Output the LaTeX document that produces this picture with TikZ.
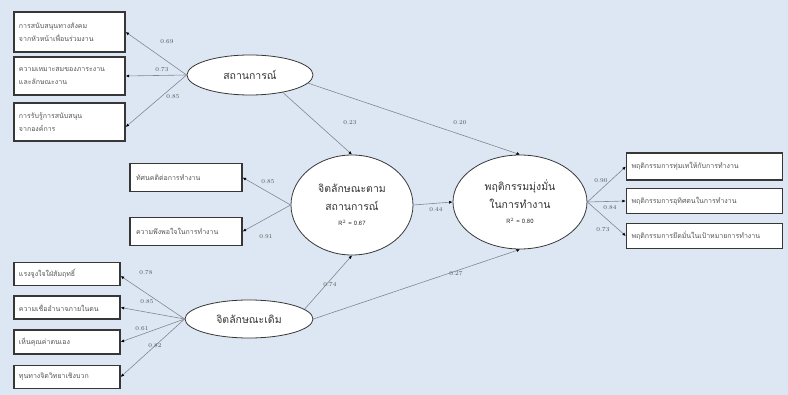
\documentclass[tikz,border=0pt]{standalone}
\usepackage{fontspec}
\newfontfamily\thaifont[Script=Thai]{Loma}
\usetikzlibrary{arrows.meta,shapes.geometric}
\definecolor{bgc}{RGB}{221,231,243}
\definecolor{boxc}{RGB}{55,55,55}
\definecolor{linec}{RGB}{130,135,145}
\definecolor{txtc}{RGB}{85,85,85}
\newcommand{\rsqfont}{\fontsize{6}{7}\selectfont}
\tikzset{
  ind/.style={draw=boxc, line width=1.3pt, fill=white, inner sep=2pt,
    font=\thaifont\fontsize{7}{13}\selectfont, text=txtc, align=left},
  lat/.style={ellipse, draw=boxc, line width=0.8pt, fill=white, inner sep=0pt,
    font=\thaifont\fontsize{10.5}{19}\selectfont, text=black!80, align=center},
  arr/.style={draw=linec, line width=0.6pt, -{Latex[length=3.5pt,width=3pt,color=black]}},
  lab/.style={font=\fontsize{6}{6}\selectfont, text=txtc, inner sep=0pt}
}
\begin{document}
\begin{tikzpicture}[x=1pt,y=-1pt]
\fill[bgc] (0,0) rectangle (788,395);
\useasboundingbox (0,0) rectangle (788,395);

% latent variables
\node[lat, minimum width=126pt, minimum height=40pt] (sit) at (250,75) {สถานการณ์};
\node[lat, minimum width=122pt, minimum height=100pt] (mid) at (352,205)
  {จิตลักษณะตาม\\[-1pt]สถานการณ์\\[-4pt]{\rsqfont R$^2$ = 0.67}};
\node[lat, minimum width=134pt, minimum height=94pt] (beh) at (520,202)
  {พฤติกรรมมุ่งมั่น\\[-1pt]ในการทำงาน\\[-4pt]{\rsqfont R$^2$ = 0.80}};
\node[lat, minimum width=128pt, minimum height=38pt] (trait) at (249,319) {จิตลักษณะเดิม};

% top-left indicators
\node[ind, minimum width=111pt, minimum height=40pt, text width=101pt] (s1) at (69.5,32)
  {การสนับสนุนทางสังคม\\จากหัวหน้าเพื่อนร่วมงาน};
\node[ind, minimum width=111pt, minimum height=38pt, text width=101pt] (s2) at (69.5,76)
  {ความเหมาะสมของภาระงาน\\และลักษณะงาน};
\node[ind, minimum width=111pt, minimum height=38pt, text width=101pt] (s3) at (69.5,122)
  {การรับรู้การสนับสนุน\\จากองค์การ};

% middle indicators
\node[ind, minimum width=112pt, minimum height=28pt, text width=100pt] (m1) at (186,177.5)
  {ทัศนคติต่อการทำงาน};
\node[ind, minimum width=112pt, minimum height=28pt, text width=100pt] (m2) at (186,231.5)
  {ความพึงพอใจในการทำงาน};

% bottom-left indicators
\node[ind, minimum width=106pt, minimum height=23pt, text width=96pt] (t1) at (67,274) {แรงจูงใจใฝ่สัมฤทธิ์};
\node[ind, minimum width=106pt, minimum height=23pt, text width=96pt] (t2) at (67,307.5) {ความเชื่ออำนาจภายในตน};
\node[ind, minimum width=106pt, minimum height=24pt, text width=96pt] (t3) at (67,342) {เห็นคุณค่าตนเอง};
\node[ind, minimum width=106pt, minimum height=23pt, text width=96pt] (t4) at (67,377) {ทุนทางจิตวิทยาเชิงบวก};

% right indicators
\node[ind, minimum width=156pt, minimum height=27pt, text width=146pt] (b1) at (704.5,166.5) {พฤติกรรมการทุ่มเทให้กับการทำงาน};
\node[ind, minimum width=156pt, minimum height=25pt, text width=146pt] (b2) at (704.5,201) {พฤติกรรมการอุทิศตนในการทำงาน};
\node[ind, minimum width=156pt, minimum height=25pt, text width=146pt] (b3) at (704.5,236) {พฤติกรรมการยึดมั่นในเป้าหมายการทำงาน};

% measurement arrows
\draw[arr] (sit.west) -- (s1.east);
\draw[arr] (sit.west) -- (s2.east);
\draw[arr] (sit.west) -- ([yshift=-5pt]s3.east);
\draw[arr] (mid.west) -- (m1.east);
\draw[arr] (mid.west) -- (m2.east);
\draw[arr] (trait.west) -- ([yshift=-2pt]t1.east);
\draw[arr] (trait.west) -- (t2.east);
\draw[arr] (trait.west) -- (t3.east);
\draw[arr] (trait.west) -- (t4.east);
\draw[arr] (beh.east) -- (b1.west);
\draw[arr] (beh.east) -- (b2.west);
\draw[arr] (beh.east) -- (b3.west);

% structural arrows
\draw[arr] (sit.-28) -- (mid.north);
\draw[arr] (sit.-8) -- (beh.north);
\draw[arr] (mid.east) -- (beh.west);
\draw[arr] (trait.10) -- (mid.south);
\draw[arr] (trait.east) -- (beh.south);

% labels
\node[lab] (ls1) at (167,42) {0.69};
\node[lab] (ls2) at (162,70) {0.73};
\node[lab] (ls3) at (173,97) {0.85};
\node[lab] (lm1) at (268,182) {0.85};
\node[lab] (lm2) at (266,237) {0.91};
\node[lab] (lt1) at (146,273) {0.78};
\node[lab] (lt2) at (147,302) {0.85};
\node[lab] (lt3) at (142,329) {0.61};
\node[lab] (lt4) at (155,346) {0.82};
\node[lab] (lsm) at (350,123) {0.23};
\node[lab] (lsb) at (460,123) {0.20};
\node[lab] (lmb) at (436,210) {0.44};
\node[lab] (ltm) at (330,285) {0.74};
\node[lab] (ltb) at (456,274) {0.27};
\node[lab] (lb1) at (601,181) {0.90};
\node[lab] (lb2) at (610,208) {0.84};
\node[lab] (lb3) at (603,230) {0.73};
\end{tikzpicture}
\end{document}
